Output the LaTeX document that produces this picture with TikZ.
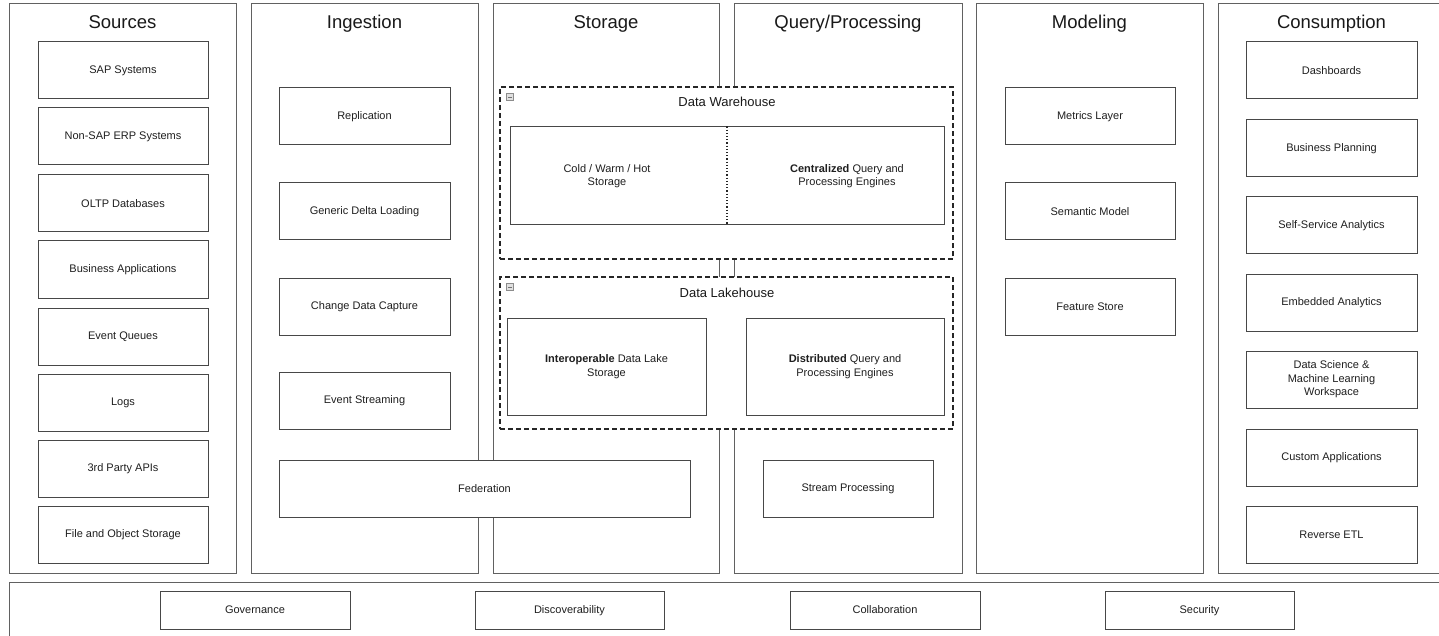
\documentclass[tikz,border=0pt]{standalone}
\usepackage{fontspec}
\setmainfont{Liberation Sans}
\newcommand\mystrut{\rule[-0.8pt]{0pt}{9.4pt}}
\begin{document}
\begin{tikzpicture}[x=1pt,y=-1pt,
  lane/.style={draw=black!62,line width=1pt,fill=white,inner sep=0pt},
  box/.style={draw=black!72,line width=1pt,fill=white,inner sep=0pt,align=center,font=\fontsize{11}{13.5}\selectfont,text=black!88,execute at begin node={\mystrut},execute at end node={\mystrut}},
  grp/.style={draw=black!85,line width=1.6pt,dash pattern=on 5pt off 3pt,fill=white,inner sep=0pt},
  lanetitle/.style={font=\fontsize{18.5}{22}\selectfont,text=black!90,inner sep=0pt,anchor=base},
  grptitle/.style={font=\fontsize{13}{16}\selectfont,text=black!90,inner sep=0pt,anchor=base},
  txt/.style={font=\fontsize{11}{13.5}\selectfont,align=center,text=black!88,inner sep=0pt,execute at begin node={\mystrut},execute at end node={\mystrut}},
  icon/.style={draw=black!45,fill=black!12,line width=0.6pt,minimum width=7pt,minimum height=7pt,inner sep=0pt}
]
\newcommand\bx[7][box]{\node[#1,minimum width={(#5-#3)*1pt},minimum height={(#6-#4)*1pt}] (#2) at ({(#3+#5)/2},{(#4+#6)/2}) {#7};}
\clip (0,0) rectangle (1439,636);
\fill[white] (0,0) rectangle (1439,636);
% lanes
\bx[lane]{lsrc}{9}{4}{236}{573}{}
\bx[lane]{ling}{251}{4}{478}{573}{}
\bx[lane]{lsto}{493}{4}{719}{573}{}
\bx[lane]{lqry}{734}{4}{962}{573}{}
\bx[lane]{lmod}{976}{4}{1203}{573}{}
\bx[lane]{lcon}{1218}{4}{1450}{573}{}
\bx[lane]{lbot}{9}{582}{1450}{650}{}
\node[lanetitle] (tsrc) at (122.5,29) {Sources};
\node[lanetitle] (ting) at (364.5,29) {Ingestion};
\node[lanetitle] (tsto) at (606,29) {Storage};
\node[lanetitle] (tqry) at (848,29) {Query/Processing};
\node[lanetitle] (tmod) at (1089.5,29) {Modeling};
\node[lanetitle] (tcon) at (1331.5,29) {Consumption};
% sources
\bx{s1}{38}{42}{208}{99}{SAP Systems}
\bx{s2}{38}{108}{208}{165}{Non-SAP ERP Systems}
\bx{s3}{38}{175}{208}{232}{OLTP Databases}
\bx{s4}{38}{241}{208}{298}{Business Applications}
\bx{s5}{38}{308}{208}{365}{Event Queues}
\bx{s6}{38}{374}{208}{431}{Logs}
\bx{s7}{38}{440}{208}{497}{3rd Party APIs}
\bx{s8}{38}{506}{208}{563}{File and Object Storage}
% ingestion
\bx{i1}{279}{88}{450}{145}{Replication}
\bx{i2}{279}{183}{450}{240}{Generic Delta Loading}
\bx{i3}{279}{278}{450}{335}{Change Data Capture}
\bx{i4}{279}{372}{450}{429}{Event Streaming}
\bx{fed}{279}{460}{690}{517}{Federation}
% query
\bx{sp}{763}{460}{933}{517}{Stream Processing}
% data warehouse
\bx[grp]{dw}{500}{87}{953}{259}{}
\node[grptitle] (dwt) at (727,107) {Data Warehouse};
\node[icon] (dwi) at (510,97) {};
\draw[black!55,line width=0.8pt] ([xshift=-2pt]dwi.center) -- ([xshift=2pt]dwi.center);
\bx{dwin}{510}{127}{944}{225}{}
\draw[black!85,line width=1.2pt,dash pattern=on 1.2pt off 2pt] (dwin.north) -- (dwin.south);
\node[txt] (dwa) at (607,176) {Cold / Warm / Hot\\Storage};
\node[txt] (dwb) at (847,176) {\textbf{Centralized} Query and\\Processing Engines};
% data lakehouse
\bx[grp]{lh}{500}{277}{953}{429}{}
\node[grptitle] (lht) at (727,297) {Data Lakehouse};
\node[icon] (lhi) at (510,287) {};
\draw[black!55,line width=0.8pt] ([xshift=-2pt]lhi.center) -- ([xshift=2pt]lhi.center);
\bx{lha}{507}{318}{706}{415}{\textbf{Interoperable} Data Lake\\Storage}
\bx{lhb}{746}{318}{944}{415}{\textbf{Distributed} Query and\\Processing Engines}
% modeling
\bx{m1}{1005}{88}{1175}{145}{Metrics Layer}
\bx{m2}{1005}{183}{1175}{240}{Semantic Model}
\bx{m3}{1005}{278}{1175}{335}{Feature Store}
% consumption
\bx{c1}{1246}{42}{1417}{99}{Dashboards}
\bx{c2}{1246}{120}{1417}{177}{Business Planning}
\bx{c3}{1246}{197}{1417}{254}{Self-Service Analytics}
\bx{c4}{1246}{274}{1417}{331}{Embedded Analytics}
\bx{c5}{1246}{351}{1417}{408}{Data Science \&\\Machine Learning\\Workspace}
\bx{c6}{1246}{429}{1417}{486}{Custom Applications}
\bx{c7}{1246}{506}{1417}{563}{Reverse ETL}
% bottom
\bx{b1}{160}{591}{350}{629}{Governance}
\bx{b2}{475}{591}{664}{629}{Discoverability}
\bx{b3}{790}{591}{980}{629}{Collaboration}
\bx{b4}{1105}{591}{1294}{629}{Security}
\end{tikzpicture}
\end{document}
